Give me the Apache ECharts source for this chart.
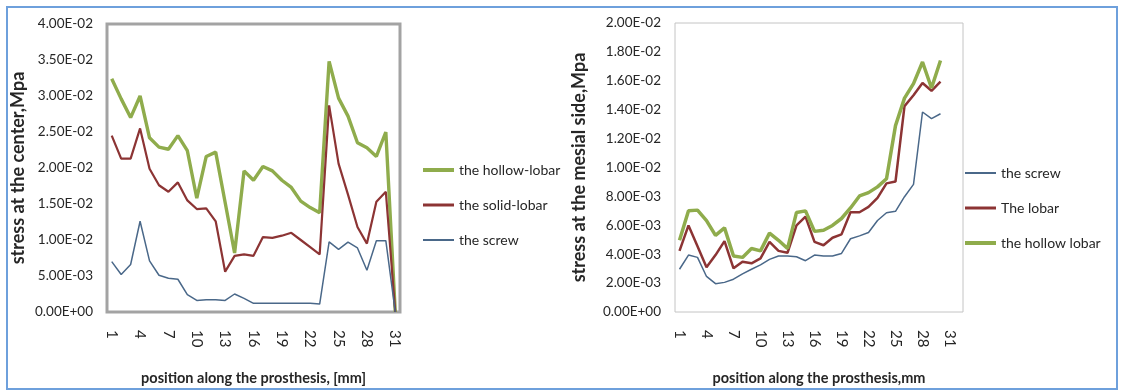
<!DOCTYPE html>
<html>
<head>
<meta charset="utf-8">
<script src="https://cdn.jsdelivr.net/npm/echarts@6/dist/echarts.min.js"></script>
<style>
  html, body { margin: 0; padding: 0; background: #fff; }
  #chart { width: 1122px; height: 391px; }
</style>
</head>
<body>
<div id="chart"></div>
<script>
// Positions along the prosthesis (mm)
const centerPositions = Array.from({ length: 31 }, (_, i) => String(i + 1));
const mesialPositions = Array.from({ length: 32 }, (_, i) => String(i + 1));

// Stress at the center (MPa)
const centerHollowLobar = [0.0324, 0.0296, 0.0270, 0.0300, 0.0242, 0.0229, 0.0226, 0.0245, 0.0224, 0.0158,
  0.0216, 0.0222, 0.0152, 0.0082, 0.0196, 0.0183, 0.0202, 0.0196, 0.0183, 0.0173,
  0.0154, 0.0145, 0.0138, 0.0348, 0.0297, 0.0272, 0.0235, 0.0228, 0.0216, 0.0250, 0];
const centerSolidLobar = [0.0245, 0.0213, 0.0213, 0.0255, 0.0199, 0.0176, 0.0167, 0.0180, 0.0155, 0.0143,
  0.0144, 0.0126, 0.0056, 0.0078, 0.0080, 0.0078, 0.0104, 0.0103, 0.0106, 0.0110,
  0.0100, 0.0090, 0.0080, 0.0287, 0.0206, 0.0163, 0.0118, 0.0095, 0.0153, 0.0167, 0];
const centerScrew = [0.0070, 0.0052, 0.0066, 0.0126, 0.0071, 0.0051, 0.0047, 0.00455, 0.0024, 0.0016,
  0.0017, 0.0017, 0.0016, 0.0025, 0.0019, 0.0012, 0.0012, 0.0012, 0.0012, 0.0012,
  0.0012, 0.0012, 0.0011, 0.00975, 0.0087, 0.0097, 0.0089, 0.0058, 0.0099, 0.0099, 0];

// Stress at the mesial side (MPa)
const mesialScrew = [0.00296, 0.00394, 0.00378, 0.00246, 0.00196, 0.00205, 0.00227, 0.00264, 0.00296, 0.00326,
  0.00364, 0.00387, 0.00387, 0.00382, 0.00355, 0.00394, 0.00387, 0.00387, 0.00405, 0.00507,
  0.00527, 0.00550, 0.00633, 0.00687, 0.00697, 0.00798, 0.00883, 0.01384, 0.01338, 0.01372];
const mesialLobar = [0.00423, 0.00599, 0.00455, 0.00309, 0.00394, 0.00491, 0.00302, 0.00348, 0.00337, 0.00371,
  0.00485, 0.00423, 0.00410, 0.00599, 0.00660, 0.00485, 0.00462, 0.00514, 0.00537, 0.00690,
  0.00690, 0.00727, 0.00790, 0.00890, 0.00903, 0.01425, 0.01500, 0.01585, 0.01531, 0.01595];
const mesialHollowLobar = [0.00496, 0.00701, 0.00705, 0.00633, 0.00530, 0.00582, 0.00387, 0.00378, 0.00439, 0.00423,
  0.00546, 0.00496, 0.00439, 0.00689, 0.00700, 0.00558, 0.00566, 0.00599, 0.00647, 0.00720,
  0.00803, 0.00826, 0.00866, 0.00922, 0.01290, 0.01480, 0.01580, 0.01730, 0.01550, 0.01740];

// Tick labels every third position
const positionLabels = ['1', '4', '7', '10', '13', '16', '19', '22', '25', '28', '31'];

const GREEN = '#8fac4c';
const RED = '#8c3434';
const BLUE = '#4a6889';
const FONT = 'Lato';
const TEXT = '#262626';

// Excel-style scientific notation: 4.00E-02
function sci(v) {
  const [m, e] = Number(v).toExponential(2).split('e');
  const sign = e[0] === '-' ? '-' : '+';
  const digits = e.replace(/[+-]/, '').padStart(2, '0');
  return m + 'E' + sign + digits;
}

function xAxis(gridIndex, cats, title) {
  return {
    type: 'category', gridIndex, data: cats, boundaryGap: true,
    axisLine: { show: false }, axisTick: { show: false },
    axisLabel: {
      rotate: -90, margin: 18, fontSize: 15, color: TEXT, fontFamily: FONT,
      interval: (i, v) => positionLabels.includes(v)
    },
    name: title, nameLocation: 'middle', nameGap: 59,
    nameTextStyle: { fontSize: 14.5, fontWeight: 'bold', color: TEXT, fontFamily: FONT }
  };
}

function yAxis(gridIndex, max, interval, title, gap) {
  return {
    type: 'value', gridIndex, min: 0, max, interval,
    splitLine: { show: false }, axisLine: { show: false }, axisTick: { show: false },
    axisLabel: { formatter: sci, fontSize: 13.5, color: TEXT, fontFamily: FONT, margin: 14 },
    name: title, nameLocation: 'middle', nameGap: gap,
    nameTextStyle: { fontSize: 18, fontWeight: 'bold', color: TEXT, fontFamily: FONT }
  };
}

function legendItem(name, top, left, thick) {
  return {
    data: [name], top, left, padding: 0, icon: 'rect', itemWidth: 31, itemHeight: thick,
    textStyle: { fontSize: 14, color: TEXT, fontFamily: FONT }
  };
}

function line(name, data, color, width, axis) {
  return {
    name, type: 'line', data, xAxisIndex: axis, yAxisIndex: axis,
    symbol: 'none', smooth: false, silent: true,
    lineStyle: { color, width }, itemStyle: { color }
  };
}

const chart = echarts.init(document.getElementById('chart'), null, { renderer: 'canvas' });
chart.setOption({
  backgroundColor: '#ffffff',
  animation: false,
  grid: [
    { left: 107, top: 24, width: 293, height: 290, show: true, borderColor: '#a3a3a3', borderWidth: 3, backgroundColor: 'transparent' },
    { left: 675, top: 23, width: 288, height: 293, show: true, borderColor: '#c4c4c4', borderWidth: 1, backgroundColor: 'transparent' }
  ],
  xAxis: [
    xAxis(0, centerPositions, 'position along the prosthesis, [mm]'),
    xAxis(1, mesialPositions, 'position along the prosthesis,mm')
  ],
  yAxis: [
    yAxis(0, 0.04, 0.005, 'stress at the center,Mpa', 80),
    yAxis(1, 0.02, 0.002, 'stress at the mesial side,Mpa', 87)
  ],
  legend: [
    legendItem('the hollow-lobar', 163, 423, 4),
    legendItem('the solid-lobar', 198, 423, 3),
    legendItem('the screw', 233, 423, 2),
    legendItem('the screw ', 166, 965, 2),
    legendItem('The lobar', 201, 965, 3),
    legendItem('the hollow lobar', 236, 965, 4)
  ],
  series: [
    line('the hollow-lobar', centerHollowLobar, GREEN, 3.4, 0),
    line('the solid-lobar', centerSolidLobar, RED, 2.2, 0),
    line('the screw', centerScrew, BLUE, 1.5, 0),
    line('the screw ', mesialScrew, BLUE, 1.5, 1),
    line('The lobar', mesialLobar, RED, 2.5, 1),
    line('the hollow lobar', mesialHollowLobar, GREEN, 3.5, 1)
  ],
  graphic: [
    { type: 'rect', silent: true, shape: { x: 7, y: 7, width: 1110, height: 382 },
      style: { fill: null, stroke: '#6ea0dc', lineWidth: 2 } }
  ]
});
</script>
</body>
</html>
